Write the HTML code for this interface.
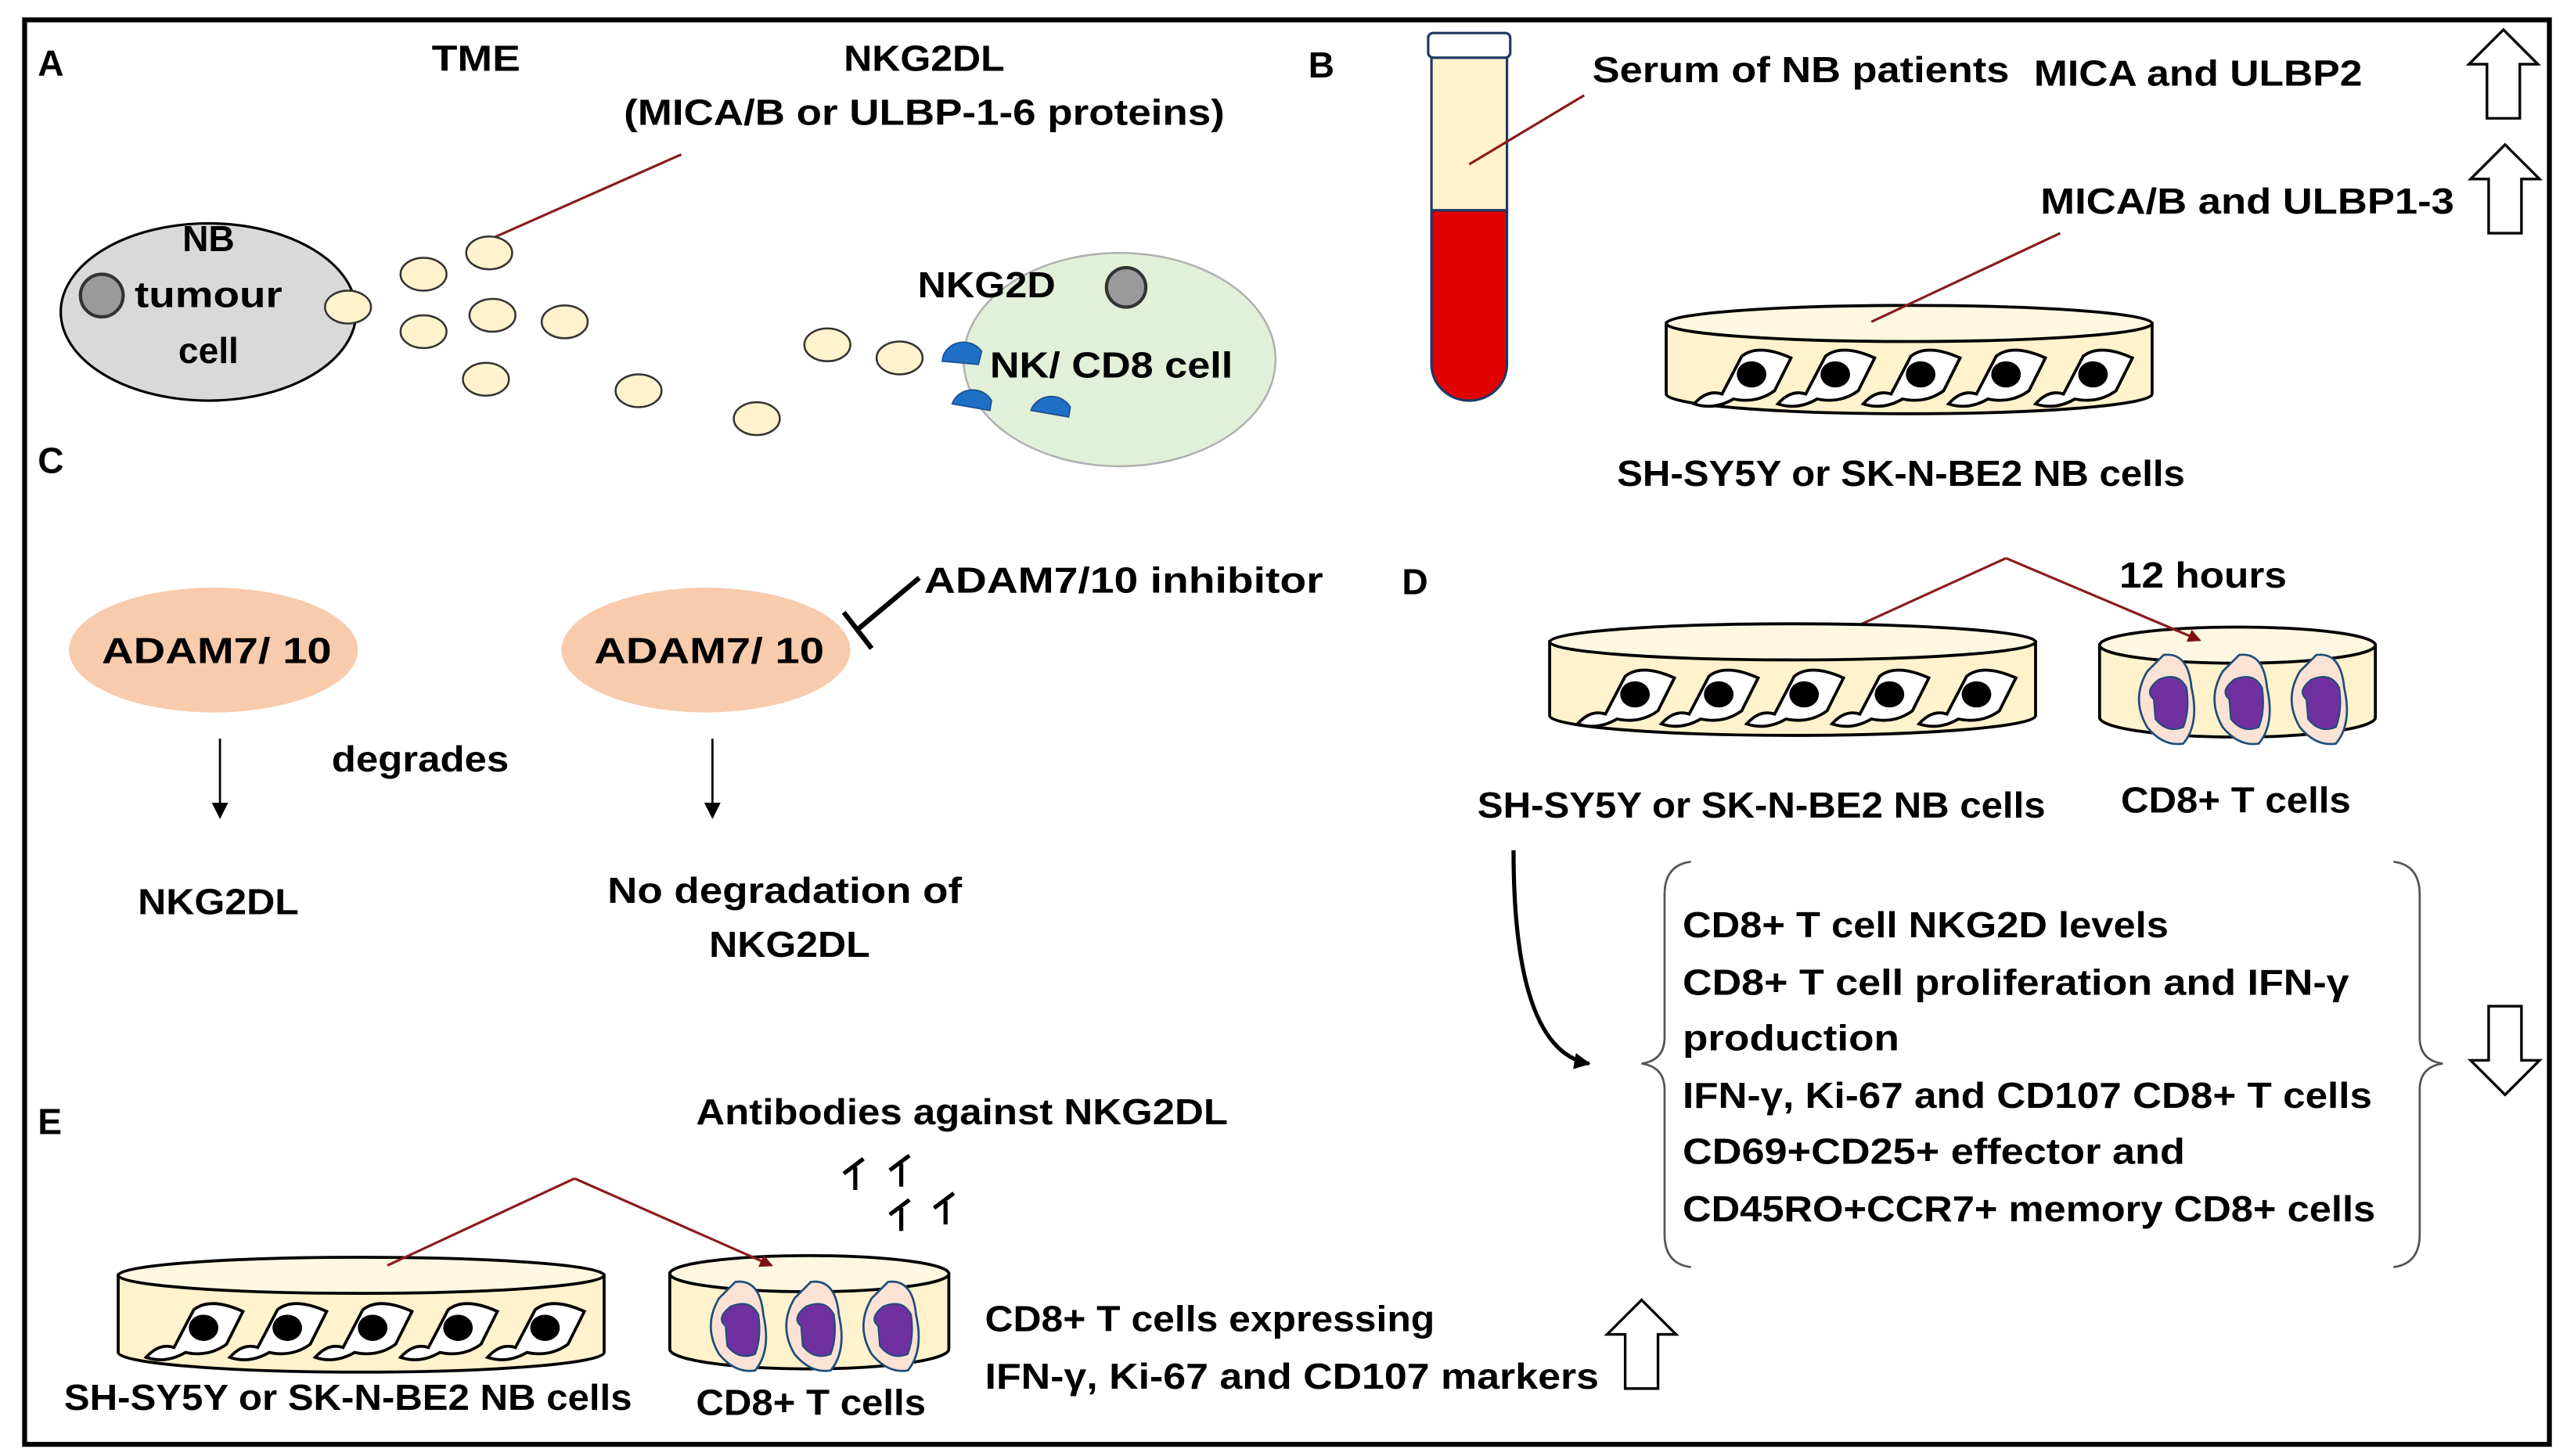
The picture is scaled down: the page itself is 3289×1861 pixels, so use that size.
<!DOCTYPE html>
<html><head><meta charset="utf-8"><style>
html,body{margin:0;padding:0;background:#fff;}
svg{display:block;}
text{font-family:"Liberation Sans",sans-serif;font-weight:bold;fill:#000;}
</style></head><body>
<svg width="3289" height="1861" viewBox="0 0 1568 887" xmlns="http://www.w3.org/2000/svg">
<defs>
<g id="cell">
<path d="M-30,17 Q-22,8 -13,11 L-1,-12 Q9,-20 29,-11 L19,9 Q8,17 -6,14 Q-18,21 -30,17 Z" fill="#fff" stroke="#000" stroke-width="1.8"/>
<ellipse cx="5" cy="-1" rx="9" ry="8" fill="#000"/>
</g>
<g id="tcell">
<path d="M-2,-27 Q13,-29 15,-7 Q20,15 10,27 Q-2,29 -12,17 Q-22,0 -12,-17 Z" fill="#fbe2d5" stroke="#1f4e79" stroke-width="1.3"/>
<path d="M-5,-12 Q7,-17 12,-7 Q14,7 10,17 Q0,21 -7,12 L-8,0 Q-14,-5 -5,-12 Z" fill="#7030a0" stroke="#1f4e79" stroke-width="1"/>
</g>
<g id="uparrow">
<path d="M0,-27 L21,-6 L10,-6 L10,27 L-10,27 L-10,-6 L-21,-6 Z" fill="#fff" stroke="#000" stroke-width="1.6"/>
</g>
<g id="ab">
<path d="M6,-9 L-6,0 M1,-4 L1,10" fill="none" stroke="#000" stroke-width="2.5"/>
</g>
<marker id="ar" markerWidth="8" markerHeight="8" refX="7" refY="4" orient="auto" markerUnits="userSpaceOnUse"><path d="M0,0 L8,4 L0,8 Z" fill="#7b1010"/></marker>
<marker id="ak" markerWidth="10" markerHeight="10" refX="9" refY="5" orient="auto" markerUnits="userSpaceOnUse"><path d="M0,0 L10,5 L0,10 Z" fill="#000"/></marker>
</defs>

<rect x="15" y="12" width="1538" height="868" fill="#fff" stroke="#000" stroke-width="3"/>

<!-- A -->
<text x="23" y="46" font-size="22">A</text>
<text x="290" y="43" font-size="22" text-anchor="middle" textLength="54" lengthAdjust="spacingAndGlyphs">TME</text>
<text x="563" y="43" font-size="22" text-anchor="middle" textLength="98" lengthAdjust="spacingAndGlyphs">NKG2DL</text>
<text x="563" y="76" font-size="22" text-anchor="middle" textLength="366" lengthAdjust="spacingAndGlyphs">(MICA/B or ULBP-1-6 proteins)</text>
<ellipse cx="127" cy="190" rx="90" ry="54" fill="#d9d9d9" stroke="#000" stroke-width="1.5"/>
<circle cx="62" cy="180" r="13" fill="#9a9a9a" stroke="#333" stroke-width="2"/>
<text x="127" y="153" font-size="22" text-anchor="middle">NB</text>
<text x="127" y="187" font-size="22" text-anchor="middle" textLength="90" lengthAdjust="spacingAndGlyphs">tumour</text>
<text x="127" y="221" font-size="22" text-anchor="middle">cell</text>
<ellipse cx="682" cy="219" rx="95" ry="65" fill="#e2f0d9" stroke="#b0b0b0" stroke-width="1.2"/>
<circle cx="686" cy="175" r="12" fill="#9a9a9a" stroke="#333" stroke-width="2"/>
<line x1="300" y1="145" x2="415" y2="94" stroke="#8b1a1a" stroke-width="1.5"/>
<g fill="#fff2cc" stroke="#333" stroke-width="1.2">
<ellipse cx="212" cy="187" rx="14" ry="10"/><ellipse cx="258" cy="167" rx="14" ry="10"/>
<ellipse cx="298" cy="154" rx="14" ry="10"/><ellipse cx="258" cy="202" rx="14" ry="10"/>
<ellipse cx="300" cy="192" rx="14" ry="10"/><ellipse cx="344" cy="196" rx="14" ry="10"/>
<ellipse cx="296" cy="231" rx="14" ry="10"/><ellipse cx="389" cy="238" rx="14" ry="10"/>
<ellipse cx="461" cy="255" rx="14" ry="10"/><ellipse cx="504" cy="210" rx="14" ry="10"/>
<ellipse cx="548" cy="218" rx="14" ry="10"/>
</g>
<g fill="#1f6fc5" stroke="#1a4f8f" stroke-width="0.8">
<path d="M574,220 A13,12 0 0 1 598,214 L596,222 Z"/>
<path d="M580,246 A13,12 0 0 1 604,244 L603,250 Z"/>
<path d="M628,250 A13,12 0 0 1 652,248 L651,254 Z"/>
</g>
<text x="601" y="181" font-size="22" text-anchor="middle" textLength="84" lengthAdjust="spacingAndGlyphs">NKG2D</text>
<text x="677" y="230" font-size="22" text-anchor="middle" textLength="148" lengthAdjust="spacingAndGlyphs">NK/ CD8 cell</text>

<!-- B -->
<text x="797" y="47" font-size="22">B</text>
<path d="M872,128 L872,222 A23,22 0 0 0 918,222 L918,128 Z" fill="#e00000" stroke="#1f3864" stroke-width="1.5"/>
<rect x="872" y="35" width="46" height="93" fill="#fff2cc" stroke="#1f3864" stroke-width="1.5"/>
<rect x="870" y="20" width="50" height="15" rx="3" fill="#fff" stroke="#1f3864" stroke-width="1.5"/>
<line x1="895" y1="100" x2="965" y2="58" stroke="#8b1a1a" stroke-width="1.5"/>
<text x="1097" y="50" font-size="22" text-anchor="middle" textLength="254" lengthAdjust="spacingAndGlyphs">Serum of NB patients</text>
<text x="1339" y="52" font-size="22" text-anchor="middle" textLength="200" lengthAdjust="spacingAndGlyphs">MICA and ULBP2</text>
<use href="#uparrow" x="1525" y="45"/>
<text x="1369" y="130" font-size="22" text-anchor="middle" textLength="252" lengthAdjust="spacingAndGlyphs">MICA/B and ULBP1-3</text>
<use href="#uparrow" x="1526" y="115"/>
<path d="M1015,197 L1015,240 A148,12 0 0 0 1311,240 L1311,197 Z" fill="#fff2cc" stroke="#000" stroke-width="1.8"/>
<ellipse cx="1163" cy="197" rx="148" ry="11" fill="#fff7e1" stroke="#000" stroke-width="1.8"/>
<use href="#cell" x="1062" y="229"/><use href="#cell" x="1113" y="229"/><use href="#cell" x="1165" y="229"/><use href="#cell" x="1217" y="229"/><use href="#cell" x="1270" y="229"/>
<line x1="1140" y1="196" x2="1255" y2="142" stroke="#8b1a1a" stroke-width="1.5"/>
<text x="1158" y="296" font-size="22" text-anchor="middle" textLength="346" lengthAdjust="spacingAndGlyphs">SH-SY5Y or SK-N-BE2 NB cells</text>

<!-- C -->
<text x="23" y="288" font-size="22">C</text>
<ellipse cx="130" cy="396" rx="88" ry="38" fill="#f8cbad"/>
<text x="132" y="404" font-size="22" text-anchor="middle" textLength="140" lengthAdjust="spacingAndGlyphs">ADAM7/ 10</text>
<ellipse cx="430" cy="396" rx="88" ry="38" fill="#f8cbad"/>
<text x="432" y="404" font-size="22" text-anchor="middle" textLength="140" lengthAdjust="spacingAndGlyphs">ADAM7/ 10</text>
<line x1="134" y1="450" x2="134" y2="498" stroke="#000" stroke-width="1.3" marker-end="url(#ak)"/>
<line x1="434" y1="450" x2="434" y2="498" stroke="#000" stroke-width="1.3" marker-end="url(#ak)"/>
<text x="256" y="470" font-size="22" text-anchor="middle" textLength="108" lengthAdjust="spacingAndGlyphs">degrades</text>
<text x="133" y="557" font-size="22" text-anchor="middle" textLength="98" lengthAdjust="spacingAndGlyphs">NKG2DL</text>
<text x="478" y="550" font-size="22" text-anchor="middle" textLength="216" lengthAdjust="spacingAndGlyphs">No degradation of</text>
<text x="481" y="583" font-size="22" text-anchor="middle" textLength="98" lengthAdjust="spacingAndGlyphs">NKG2DL</text>
<line x1="560" y1="352" x2="523" y2="383" stroke="#000" stroke-width="3"/>
<line x1="514" y1="373" x2="531" y2="395" stroke="#000" stroke-width="3"/>
<text x="563" y="361" font-size="22" textLength="243" lengthAdjust="spacingAndGlyphs">ADAM7/10 inhibitor</text>

<!-- D -->
<text x="854" y="362" font-size="22">D</text>
<line x1="1222" y1="340" x2="1108" y2="392" stroke="#8b1a1a" stroke-width="1.5"/>
<text x="1342" y="358" font-size="22" text-anchor="middle" textLength="102" lengthAdjust="spacingAndGlyphs">12 hours</text>
<path d="M944,391 L944,436 A148,12 0 0 0 1240,436 L1240,391 Z" fill="#fff2cc" stroke="#000" stroke-width="1.8"/>
<ellipse cx="1092" cy="391" rx="148" ry="11" fill="#fff7e1" stroke="#000" stroke-width="1.8"/>
<use href="#cell" x="991" y="424"/><use href="#cell" x="1042" y="424"/><use href="#cell" x="1094" y="424"/><use href="#cell" x="1146" y="424"/><use href="#cell" x="1199" y="424"/>
<path d="M1279,393 L1279,437 A84,12 0 0 0 1447,437 L1447,393 Z" fill="#fff2cc" stroke="#000" stroke-width="1.8"/>
<ellipse cx="1363" cy="393" rx="84" ry="11" fill="#fff7e1" stroke="#000" stroke-width="1.8"/>
<use href="#tcell" x="1320" y="426"/><use href="#tcell" x="1366" y="426"/><use href="#tcell" x="1413" y="426"/>
<line x1="1222" y1="340" x2="1340" y2="390" stroke="#8b1a1a" stroke-width="1.5" marker-end="url(#ar)"/>
<text x="1073" y="498" font-size="22" text-anchor="middle" textLength="346" lengthAdjust="spacingAndGlyphs">SH-SY5Y or SK-N-BE2 NB cells</text>
<text x="1362" y="495" font-size="22" text-anchor="middle" textLength="140" lengthAdjust="spacingAndGlyphs">CD8+ T cells</text>
<path d="M922,518 Q922,640 968,648" fill="none" stroke="#000" stroke-width="2.5" marker-end="url(#ak)"/>
<path d="M1030,525 Q1014,527 1014,545 L1014,632 Q1014,646 1000,648 Q1014,650 1014,664 L1014,752 Q1014,770 1030,772" fill="none" stroke="#555" stroke-width="1.3"/>
<path d="M1458,525 Q1474,527 1474,545 L1474,632 Q1474,646 1488,648 Q1474,650 1474,664 L1474,752 Q1474,770 1458,772" fill="none" stroke="#555" stroke-width="1.3"/>
<g font-size="22">
<text x="1025" y="571" textLength="296" lengthAdjust="spacingAndGlyphs">CD8+ T cell NKG2D levels</text>
<text x="1025" y="606" textLength="406" lengthAdjust="spacingAndGlyphs">CD8+ T cell proliferation and IFN-γ</text>
<text x="1025" y="640" textLength="132" lengthAdjust="spacingAndGlyphs">production</text>
<text x="1025" y="675" textLength="420" lengthAdjust="spacingAndGlyphs">IFN-γ, Ki-67 and CD107 CD8+ T cells</text>
<text x="1025" y="709" textLength="306" lengthAdjust="spacingAndGlyphs">CD69+CD25+ effector and</text>
<text x="1025" y="744" textLength="422" lengthAdjust="spacingAndGlyphs">CD45RO+CCR7+ memory CD8+ cells</text>
</g>
<use href="#uparrow" transform="translate(1526,640) rotate(180)"/>

<!-- E -->
<text x="23" y="691" font-size="22">E</text>
<text x="586" y="685" font-size="22" text-anchor="middle" textLength="324" lengthAdjust="spacingAndGlyphs">Antibodies against NKG2DL</text>
<use href="#ab" x="520" y="715"/><use href="#ab" x="548" y="713"/><use href="#ab" x="548" y="740"/><use href="#ab" x="575" y="736"/>
<path d="M72,777 L72,824 A148,12 0 0 0 368,824 L368,777 Z" fill="#fff2cc" stroke="#000" stroke-width="1.8"/>
<ellipse cx="220" cy="777" rx="148" ry="11" fill="#fff7e1" stroke="#000" stroke-width="1.8"/>
<use href="#cell" x="119" y="810"/><use href="#cell" x="170" y="810"/><use href="#cell" x="222" y="810"/><use href="#cell" x="274" y="810"/><use href="#cell" x="327" y="810"/>
<path d="M408,776 L408,822 A85,12 0 0 0 578,822 L578,776 Z" fill="#fff2cc" stroke="#000" stroke-width="1.8"/>
<ellipse cx="493" cy="776" rx="85" ry="11" fill="#fff7e1" stroke="#000" stroke-width="1.8"/>
<use href="#tcell" x="450" y="808"/><use href="#tcell" x="496" y="808"/><use href="#tcell" x="543" y="808"/>
<line x1="350" y1="718" x2="236" y2="771" stroke="#8b1a1a" stroke-width="1.5"/>
<line x1="350" y1="718" x2="470" y2="771" stroke="#8b1a1a" stroke-width="1.5" marker-end="url(#ar)"/>
<text x="212" y="859" font-size="22" text-anchor="middle" textLength="346" lengthAdjust="spacingAndGlyphs">SH-SY5Y or SK-N-BE2 NB cells</text>
<text x="494" y="862" font-size="22" text-anchor="middle" textLength="140" lengthAdjust="spacingAndGlyphs">CD8+ T cells</text>
<text x="600" y="811" font-size="22" textLength="274" lengthAdjust="spacingAndGlyphs">CD8+ T cells expressing</text>
<text x="600" y="846" font-size="22" textLength="374" lengthAdjust="spacingAndGlyphs">IFN-γ, Ki-67 and CD107 markers</text>
<use href="#uparrow" x="1000" y="819"/>
</svg>
</body></html>
